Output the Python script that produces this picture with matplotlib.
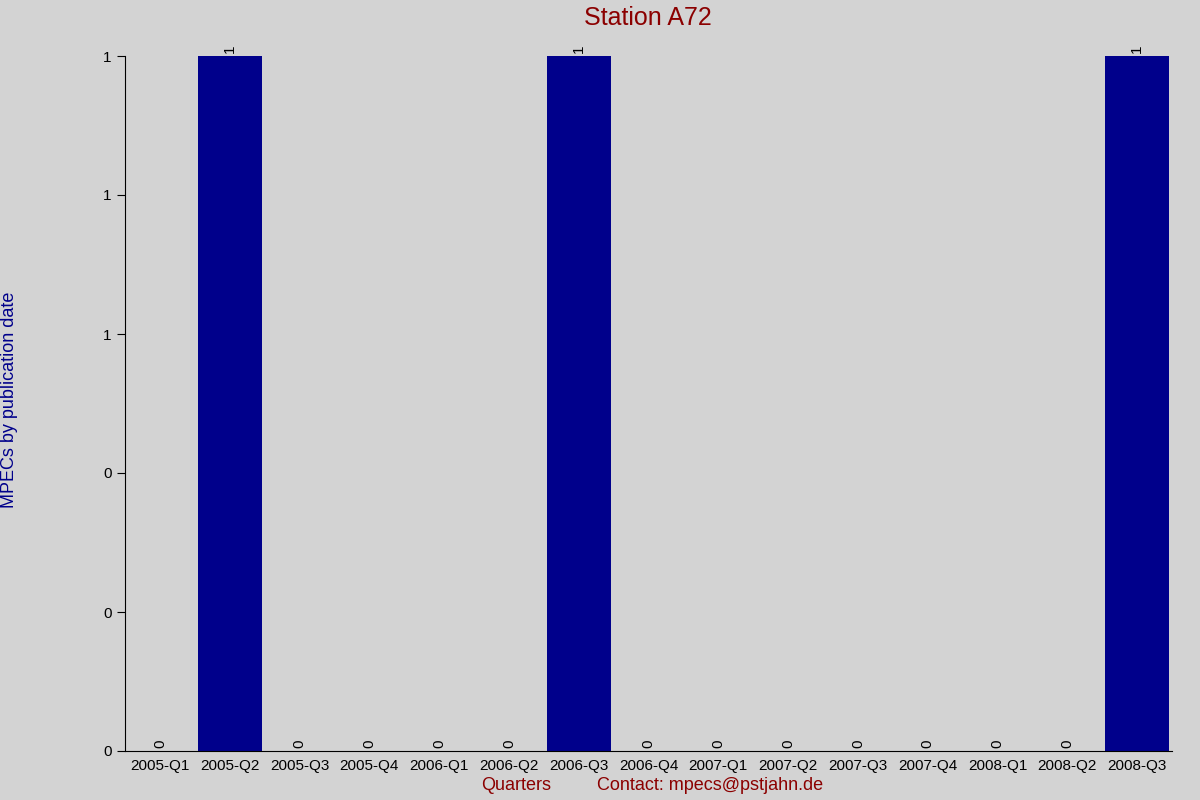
import matplotlib
matplotlib.use("Agg")
import matplotlib.pyplot as plt
plt.rcParams['font.family'] = ['Liberation Sans', 'DejaVu Sans']

quarters = ["2005-Q1","2005-Q2","2005-Q3","2005-Q4","2006-Q1","2006-Q2","2006-Q3","2006-Q4",
            "2007-Q1","2007-Q2","2007-Q3","2007-Q4","2008-Q1","2008-Q2","2008-Q3"]
counts = [0,1,0,0,0,0,1,0,0,0,0,0,0,0,1]
yticks = [0,0.2,0.4,0.6,0.8,1.0]
ytick_labels = ["0","0","0","1","1","1"]

fig = plt.figure(figsize=(12,8), dpi=100, facecolor="#d3d3d3")
ax = fig.add_axes([125/1200, 1-751/800, 1047/1200, 695/800])
ax.set_facecolor("#d3d3d3")
x = range(len(quarters))
ax.bar(x, counts, width=0.92, color="#00008b")
ax.set_xlim(-0.5, len(quarters)-0.5)
ax.set_ylim(0, 1)
ax.set_yticks(yticks)
ax.set_yticklabels(ytick_labels)
ax.set_xticks(list(x))
ax.set_xticklabels(quarters)
ax.tick_params(axis="x", length=0, labelsize=11, pad=6)
ax.tick_params(axis="y", length=6, labelsize=11, direction="out")
for s in ["top","right"]:
    ax.spines[s].set_visible(False)
for xi, c in zip(x, counts):
    ax.text(xi, c + 0.004, str(c), rotation=90, ha="center", va="bottom", fontsize=11)
fig.text(0.54, 1-18/800, "Station A72", ha="center", va="center", color="#8b0000", fontsize=18)
fig.text(10/1200, 0.5, "MPECs by publication date", rotation=90, ha="center", va="center",
         color="#00008b", fontsize=13)
fig.text(516/1200, 1-786/800, "Quarters", ha="center", va="center", color="#8b0000", fontsize=13)
fig.text(710/1200, 1-786/800, "Contact: mpecs@pstjahn.de", ha="center", va="center",
         color="#8b0000", fontsize=13)
fig.savefig("out.png", dpi=100, facecolor=fig.get_facecolor())
